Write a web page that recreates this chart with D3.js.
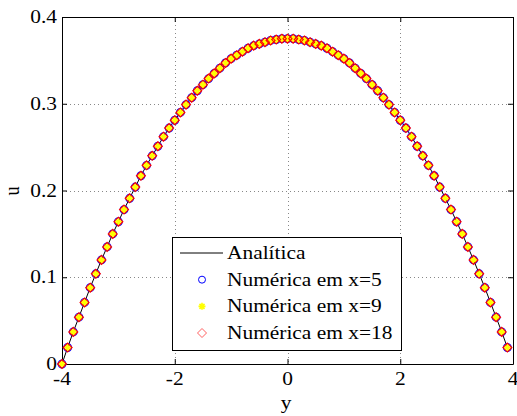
<!DOCTYPE html>
<html>
<head>
<meta charset="utf-8">
<script src="https://cdn.jsdelivr.net/npm/d3@7"></script>
<style>
  body { margin: 0; background: #fff; }
</style>
</head>
<body>
<script>
// Chart size and margins (plot box from x=62..513, y=17..364)
var svgWidth = 517;
var svgHeight = 416;
var margin = { top: 17, right: 4, bottom: 52, left: 62 };
var width = svgWidth - margin.left - margin.right;
var height = svgHeight - margin.top - margin.bottom;

// Data
var yNodes = [-4.0, -3.9, -3.8, -3.7, -3.6, -3.5, -3.4, -3.3, -3.2, -3.1,
  -3.0, -2.9, -2.8, -2.7, -2.6, -2.5, -2.4, -2.3, -2.2, -2.1,
  -2.0, -1.9, -1.8, -1.7, -1.6, -1.5, -1.4, -1.3, -1.2, -1.1,
  -1.0, -0.9, -0.8, -0.7, -0.6, -0.5, -0.4, -0.3, -0.2, -0.1,
  0.0, 0.1, 0.2, 0.3, 0.4, 0.5, 0.6, 0.7, 0.8, 0.9,
  1.0, 1.1, 1.2, 1.3, 1.4, 1.5, 1.6, 1.7, 1.8, 1.9,
  2.0, 2.1, 2.2, 2.3, 2.4, 2.5, 2.6, 2.7, 2.8, 2.9,
  3.0, 3.1, 3.2, 3.3, 3.4, 3.5, 3.6, 3.7, 3.8, 3.9];

var uAnalitica = [0.000, 0.019, 0.037, 0.054, 0.071, 0.088, 0.104, 0.120, 0.135, 0.150,
  0.164, 0.178, 0.191, 0.204, 0.217, 0.229, 0.240, 0.251, 0.262, 0.272,
  0.281, 0.290, 0.299, 0.307, 0.315, 0.322, 0.329, 0.335, 0.341, 0.347,
  0.352, 0.356, 0.360, 0.364, 0.367, 0.369, 0.371, 0.373, 0.374, 0.375,
  0.375, 0.375, 0.374, 0.373, 0.371, 0.369, 0.367, 0.364, 0.360, 0.356,
  0.352, 0.347, 0.341, 0.335, 0.329, 0.322, 0.315, 0.307, 0.299, 0.290,
  0.281, 0.272, 0.262, 0.251, 0.240, 0.229, 0.217, 0.204, 0.191, 0.178,
  0.164, 0.150, 0.135, 0.120, 0.104, 0.088, 0.071, 0.054, 0.037, 0.019];

// the three numerical solutions lie on top of each other at this scale
var uNumerica = uAnalitica.slice();

var xTicks = [-4, -2, 0, 2, 4];
var yTicks = [0, 0.1, 0.2, 0.3, 0.4];
var legendLabels = ["Analítica", "Numérica em x=5", "Numérica em x=9", "Numérica em x=18"];

var stretch = 1.19; // text in the picture is a bit wider than normal

var svg = d3.select("body")
  .append("svg")
  .attr("width", svgWidth)
  .attr("height", svgHeight);

svg.append("rect").attr("width", svgWidth).attr("height", svgHeight).attr("fill", "#fff");

var g = svg.append("g")
  .attr("transform", `translate(${margin.left}, ${margin.top})`);

var xScale = d3.scaleLinear().domain([-4, 4]).range([0, width]);
var yScale = d3.scaleLinear().domain([0, 0.4]).range([height, 0]);

// serif text helper
function serif(sel) {
  return sel.attr("font-family", "Liberation Serif").attr("font-size", 18).attr("fill", "#000");
}

// dotted grid
g.selectAll(".gx")
  .data(xTicks.filter(d => d > -4 && d < 4))
  .enter().append("line")
  .attr("x1", d => Math.round(xScale(d)) + 0.5)
  .attr("x2", d => Math.round(xScale(d)) + 0.5)
  .attr("y1", 0).attr("y2", height)
  .attr("stroke", "#888").attr("stroke-dasharray", "1,3");

g.selectAll(".gy")
  .data(yTicks.filter(d => d > 0 && d < 0.4))
  .enter().append("line")
  .attr("y1", d => Math.round(yScale(d)) + 0.5)
  .attr("y2", d => Math.round(yScale(d)) + 0.5)
  .attr("x1", 0).attr("x2", width)
  .attr("stroke", "#888").attr("stroke-dasharray", "1,3");

// axes: inward ticks on all four sides
var bottomAxis = d3.axisBottom(xScale).tickValues(xTicks).tickSizeInner(-5).tickSizeOuter(0).tickFormat("");
var topAxis = d3.axisTop(xScale).tickValues(xTicks).tickSizeInner(-5).tickSizeOuter(0).tickFormat("");
var leftAxis = d3.axisLeft(yScale).tickValues(yTicks).tickSizeInner(-5).tickSizeOuter(0).tickFormat("");
var rightAxis = d3.axisRight(yScale).tickValues(yTicks).tickSizeInner(-5).tickSizeOuter(0).tickFormat("");

g.append("g").attr("transform", `translate(0, ${height})`).call(bottomAxis);
g.append("g").call(topAxis);
g.append("g").call(leftAxis);
g.append("g").attr("transform", `translate(${width}, 0)`).call(rightAxis);
g.selectAll(".domain").attr("stroke", "#000");
g.selectAll(".tick line").attr("stroke", "#000");

// tick labels
g.selectAll(".xl")
  .data(xTicks)
  .enter().append("text")
  .call(serif)
  .attr("transform", d => `translate(${xScale(d)}, ${height + 21}) scale(${stretch},1)`)
  .attr("text-anchor", "middle")
  .text(d => d);

g.selectAll(".yl")
  .data(yTicks)
  .enter().append("text")
  .call(serif)
  .attr("transform", d => `translate(-5, ${yScale(d) + 6}) scale(${stretch},1)`)
  .attr("text-anchor", "end")
  .text(d => d === 0 ? "0" : d3.format(".1f")(d));

// axis titles
svg.append("text")
  .call(serif)
  .attr("transform", `translate(286, 409) scale(${stretch},1)`)
  .attr("text-anchor", "middle")
  .text("y");

svg.append("text")
  .call(serif)
  .attr("transform", `translate(19, 191) rotate(-90) scale(1,${stretch})`)
  .attr("text-anchor", "middle")
  .text("u");

// analytic line
var line = d3.line()
  .x((d, i) => xScale(yNodes[i]))
  .y(d => yScale(d));

g.append("path")
  .datum(uAnalitica)
  .attr("d", line)
  .attr("fill", "none")
  .attr("stroke", "#000")
  .attr("stroke-width", 1);

// marker shapes
var starPath = "M-3.5,0H3.5M0,-3.5V3.5M-2.5,-2.5L2.5,2.5M-2.5,2.5L2.5,-2.5";
var diamondPath = "M0,-4.5L4.5,0L0,4.5L-4.5,0Z";

function drawCircles(sel, data) {
  sel.selectAll(".c").data(data).enter().append("circle")
    .attr("cx", (d, i) => xScale(yNodes[i]))
    .attr("cy", d => yScale(d))
    .attr("r", 3.8)
    .attr("fill", "none")
    .attr("stroke", "#0000ff")
    .attr("stroke-width", 1.3);
}

function drawStars(sel, data) {
  sel.selectAll(".s").data(data).enter().append("path")
    .attr("transform", (d, i) => `translate(${xScale(yNodes[i])}, ${yScale(d)})`)
    .attr("d", starPath)
    .attr("fill", "none")
    .attr("stroke", "#ffff00")
    .attr("stroke-width", 1.6);
}

function drawDiamonds(sel, data) {
  sel.selectAll(".d").data(data).enter().append("path")
    .attr("transform", (d, i) => `translate(${xScale(yNodes[i])}, ${yScale(d)})`)
    .attr("d", diamondPath)
    .attr("fill", "none")
    .attr("stroke", "#ff0000")
    .attr("stroke-width", 1.1);
}

drawCircles(g.append("g"), uNumerica);
drawStars(g.append("g"), uNumerica);
drawDiamonds(g.append("g"), uNumerica);

// legend
var legend = svg.append("g");
legend.append("rect")
  .attr("x", 172.5).attr("y", 237.5)
  .attr("width", 229).attr("height", 113)
  .attr("fill", "#fff")
  .attr("stroke", "#000");

var rowY = d3.scalePoint().domain(legendLabels).range([253, 333]);

legend.append("line")
  .attr("x1", 180).attr("x2", 223)
  .attr("y1", rowY(legendLabels[0])).attr("y2", rowY(legendLabels[0]))
  .attr("stroke", "#000");

legend.append("circle")
  .attr("cx", 202).attr("cy", rowY(legendLabels[1]))
  .attr("r", 3.5).attr("fill", "none").attr("stroke", "#0000ff");

legend.append("path")
  .attr("transform", `translate(202, ${rowY(legendLabels[2])})`)
  .attr("d", starPath).attr("fill", "none").attr("stroke", "#ffff00").attr("stroke-width", 1.6);

legend.append("path")
  .attr("transform", `translate(202, ${rowY(legendLabels[3])})`)
  .attr("d", diamondPath).attr("fill", "none").attr("stroke", "#ff6060");

legend.selectAll(".lt")
  .data(legendLabels)
  .enter().append("text")
  .call(serif)
  .attr("transform", d => `translate(227, ${rowY(d) + 6}) scale(${stretch},1)`)
  .text(d => d);
</script>
</body>
</html>
